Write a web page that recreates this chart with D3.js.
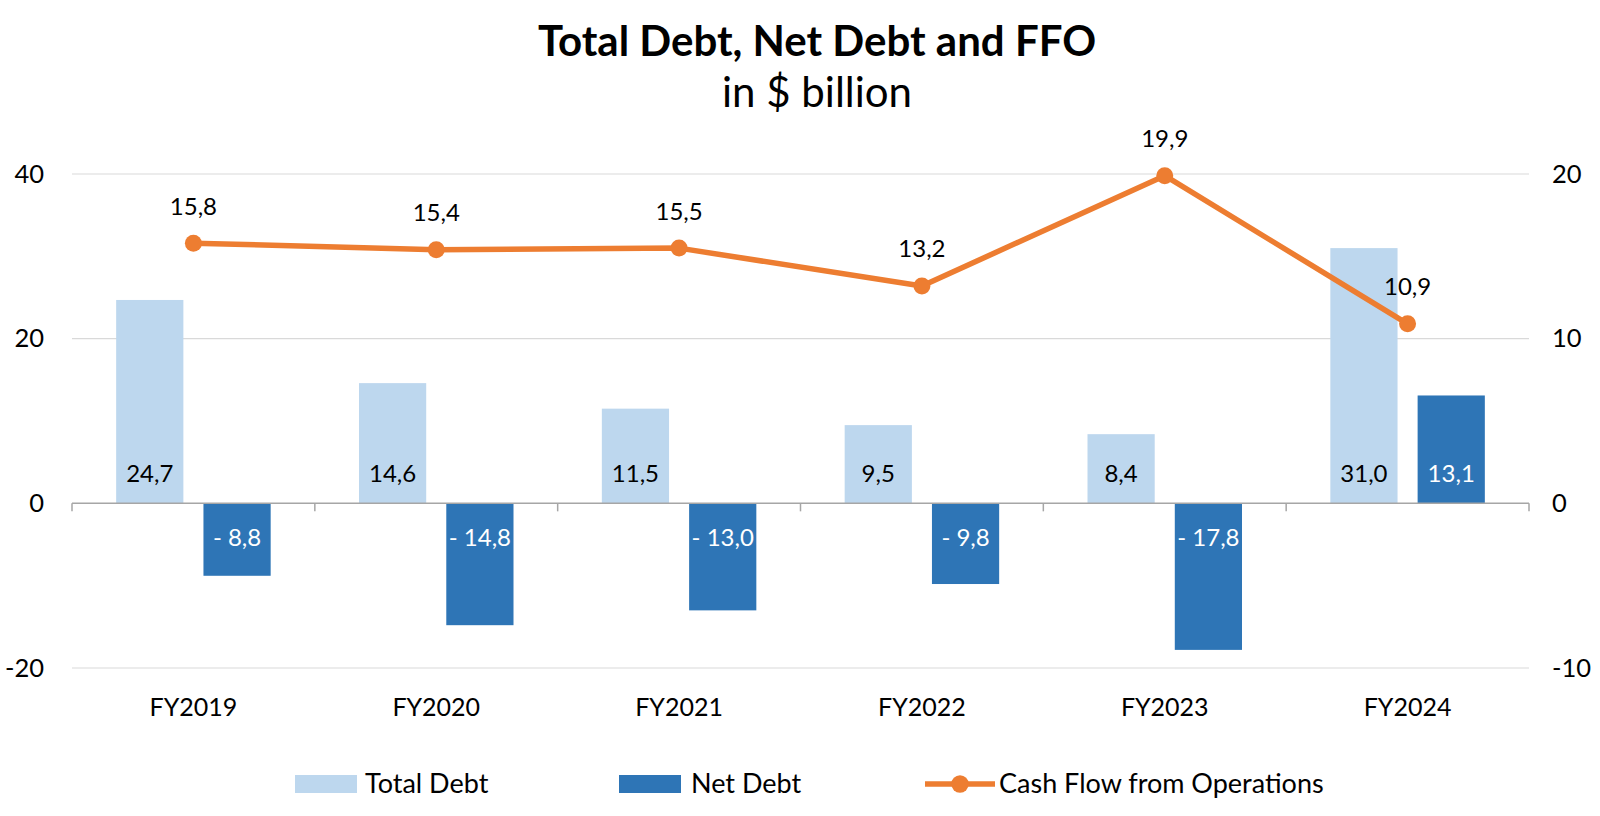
<!DOCTYPE html>
<html>
<head>
<meta charset="utf-8">
<script src="https://cdn.jsdelivr.net/npm/d3@7/dist/d3.min.js"></script>
<style>
  html, body { margin: 0; padding: 0; background: #fff; }
  svg { display: block; font-family: Lato, "Open Sans", sans-serif; }
</style>
</head>
<body>
<svg id="chart" width="1600" height="816"></svg>
<script>
const categories = ["FY2019", "FY2020", "FY2021", "FY2022", "FY2023", "FY2024"];
const totalDebt = [24.7, 14.6, 11.5, 9.5, 8.4, 31.0];
const netDebt = [-8.8, -14.8, -13.0, -9.8, -17.8, 13.1];
const ffo = [15.8, 15.4, 15.5, 13.2, 19.9, 10.9];
const leftTicks = [-20, 0, 20, 40];
const rightTicks = [-10, 0, 10, 20];
const seriesNames = ["Total Debt", "Net Debt", "Cash Flow from Operations"];

const colTotal = "#BDD7EE", colNet = "#2E75B6", colLine = "#ED7D31";

const svg = d3.select("#chart");
const plotL = 72, plotR = 1529, plotT = 174, plotB = 668;

const x = d3.scaleBand().domain(categories).range([plotL, plotR]).paddingInner(0).paddingOuter(0);
const xSub = d3.scaleBand().domain(["total", "net"]).range([0, x.bandwidth()]).paddingInner(0.23).paddingOuter(0.506);
const yL = d3.scaleLinear().domain([-20, 40]).range([plotB, plotT]);
const yR = d3.scaleLinear().domain([-10, 20]).range([plotB, plotT]);

const fmt = v => (v < 0 ? "- " : "") + Math.abs(v).toFixed(1).replace(".", ",");

// Title
svg.append("text").attr("x", 817).attr("y", 56).attr("text-anchor", "middle")
  .attr("font-size", 42).attr("font-weight", 700).attr("fill", "#000")
  .text("Total Debt, Net Debt and FFO");
svg.append("text").attr("x", 817).attr("y", 107).attr("text-anchor", "middle")
  .attr("font-size", 42).attr("fill", "#000")
  .text("in $ billion");

// Gridlines
svg.append("g").selectAll("line").data(leftTicks.filter(t => t !== 0)).join("line")
  .attr("x1", plotL).attr("x2", plotR)
  .attr("y1", d => yL(d)).attr("y2", d => yL(d))
  .attr("stroke", "#D9D9D9").attr("stroke-width", 1.2);

// Left axis labels
const leftAxis = d3.axisLeft(yL).tickValues(leftTicks).tickSize(0).tickPadding(0).tickFormat(d => d);
const gl = svg.append("g").attr("transform", `translate(44,0)`).call(leftAxis);
gl.select(".domain").remove();
gl.selectAll("text").attr("font-size", 25.5).attr("fill", "#000").attr("font-family", "Lato, sans-serif");

// Right axis labels
const rightAxis = d3.axisRight(yR).tickValues(rightTicks).tickSize(0).tickPadding(0).tickFormat(d => d);
const gr = svg.append("g").attr("transform", `translate(1552,0)`).call(rightAxis);
gr.select(".domain").remove();
gr.selectAll("text").attr("font-size", 25.5).attr("fill", "#000").attr("font-family", "Lato, sans-serif");

// Bars
const gBars = svg.append("g");
gBars.selectAll("rect.total").data(categories).join("rect").attr("class", "total")
  .attr("x", (d) => x(d) + xSub("total"))
  .attr("width", xSub.bandwidth())
  .attr("y", (d, i) => Math.min(yL(totalDebt[i]), yL(0)))
  .attr("height", (d, i) => Math.abs(yL(totalDebt[i]) - yL(0)))
  .attr("fill", colTotal);
gBars.selectAll("rect.net").data(categories).join("rect").attr("class", "net")
  .attr("x", (d) => x(d) + xSub("net"))
  .attr("width", xSub.bandwidth())
  .attr("y", (d, i) => Math.min(yL(netDebt[i]), yL(0)))
  .attr("height", (d, i) => Math.abs(yL(netDebt[i]) - yL(0)))
  .attr("fill", colNet);

// Zero axis line with ticks
const gx = svg.append("g");
gx.append("line").attr("x1", plotL).attr("x2", plotR).attr("y1", yL(0)).attr("y2", yL(0))
  .attr("stroke", "#A6A6A6").attr("stroke-width", 1.5);
const bounds = categories.map(c => x(c)).concat([plotR]);
gx.selectAll("line.tick").data(bounds).join("line").attr("class", "tick")
  .attr("x1", d => d).attr("x2", d => d)
  .attr("y1", yL(0)).attr("y2", yL(0) + 8)
  .attr("stroke", "#A6A6A6").attr("stroke-width", 1.5);

// Category labels
gx.selectAll("text.cat").data(categories).join("text").attr("class", "cat")
  .attr("x", d => x(d) + x.bandwidth() / 2).attr("y", 707).attr("dy", "0.35em")
  .attr("text-anchor", "middle").attr("font-size", 25).attr("fill", "#000")
  .text(d => d);

// Bar labels
gBars.selectAll("text.tl").data(categories).join("text").attr("class", "tl")
  .attr("x", d => x(d) + xSub("total") + xSub.bandwidth() / 2)
  .attr("y", yL(0) - 30).attr("dy", "0.35em")
  .attr("text-anchor", "middle").attr("font-size", 24).attr("fill", "#000")
  .text((d, i) => fmt(totalDebt[i]));
gBars.selectAll("text.nl").data(categories).join("text").attr("class", "nl")
  .attr("x", d => x(d) + xSub("net") + xSub.bandwidth() / 2)
  .attr("y", (d, i) => netDebt[i] < 0 ? yL(0) + 34 : yL(0) - 30).attr("dy", "0.35em")
  .attr("text-anchor", "middle").attr("font-size", 24).attr("fill", "#fff")
  .text((d, i) => fmt(netDebt[i]));

// Line
const cx = d => x(d) + x.bandwidth() / 2;
const line = d3.line().x((d, i) => cx(categories[i])).y(d => yR(d));
svg.append("path").datum(ffo).attr("d", line)
  .attr("fill", "none").attr("stroke", colLine).attr("stroke-width", 5.5)
  .attr("stroke-linejoin", "round");
svg.append("g").selectAll("circle").data(ffo).join("circle")
  .attr("cx", (d, i) => cx(categories[i])).attr("cy", d => yR(d)).attr("r", 8.5)
  .attr("fill", colLine);
svg.append("g").selectAll("text").data(ffo).join("text")
  .attr("x", (d, i) => cx(categories[i])).attr("y", d => yR(d) - 37).attr("dy", "0.35em")
  .attr("text-anchor", "middle").attr("font-size", 24).attr("fill", "#000")
  .text(d => fmt(d));

// Legend
const lg = svg.append("g");
const ly = 784;
const legendItems = [
  { name: seriesNames[0], type: "rect", color: colTotal, sx: 295, tx: 365 },
  { name: seriesNames[1], type: "rect", color: colNet, sx: 619, tx: 691 },
  { name: seriesNames[2], type: "line", color: colLine, sx: 925, tx: 999 }
];
legendItems.forEach(it => {
  if (it.type === "rect") {
    lg.append("rect").attr("x", it.sx).attr("y", ly - 9).attr("width", 62).attr("height", 18).attr("fill", it.color);
  } else {
    lg.append("line").attr("x1", it.sx).attr("x2", it.sx + 70).attr("y1", ly).attr("y2", ly)
      .attr("stroke", it.color).attr("stroke-width", 5.5);
    lg.append("circle").attr("cx", it.sx + 35).attr("cy", ly).attr("r", 8.7).attr("fill", it.color);
  }
  lg.append("text").attr("x", it.tx).attr("y", ly).attr("dy", "0.35em")
    .attr("font-size", 27).attr("fill", "#000").text(it.name);
});
</script>
</body>
</html>
